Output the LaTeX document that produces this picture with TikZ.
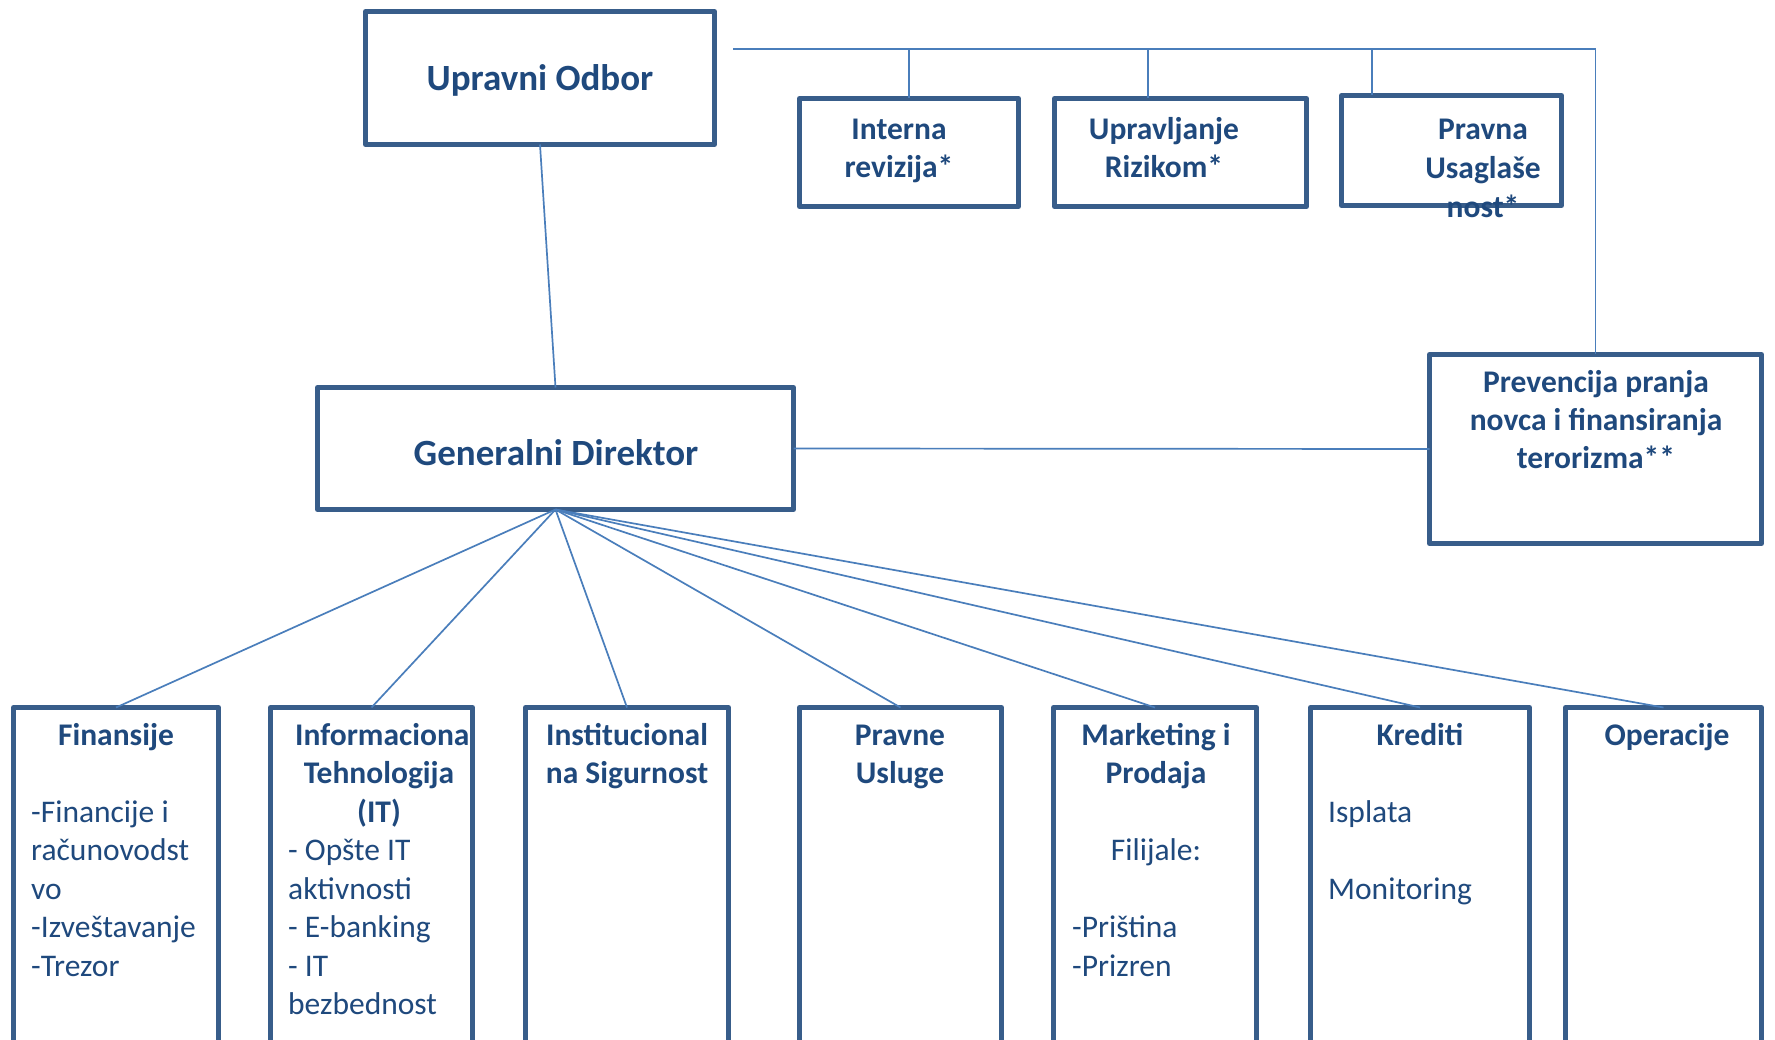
\documentclass[tikz,border=0pt]{standalone}
\usepackage{fontspec}
\setmainfont{Carlito}
\definecolor{boxc}{RGB}{56,93,138}
\definecolor{txtc}{RGB}{31,73,125}
\definecolor{linec}{RGB}{74,126,187}
\tikzset{
  orgbox/.style={draw=boxc, line width=5pt, line join=round, rectangle, inner sep=0pt, outer sep=0pt},
  conn/.style={draw=linec, line width=1.7pt},
  tb/.style={text=txtc, font=\fontsize{31.5}{38.5}\selectfont\bfseries, inner sep=0pt, anchor=base},
  tbw/.style={tb, anchor=base west},
  tn/.style={text=txtc, font=\fontsize{31.5}{38.5}\selectfont, inner sep=0pt, anchor=base west},
  tnc/.style={tn, anchor=base},
  big/.style={text=txtc, font=\fontsize{37}{44}\selectfont\bfseries, inner sep=0pt, anchor=base}
}
\begin{document}
\begin{tikzpicture}[x=1pt,y=-1pt]
\useasboundingbox (0,0) rectangle (1775,1040);
\fill[white] (0,0) rectangle (1775,1040);
\clip (0,0) rectangle (1775,1040);

% boxes
\node[orgbox, minimum width=349pt, minimum height=133pt] (UO) at (540,78) {};
\node[orgbox, minimum width=476pt, minimum height=122pt] (GD) at (555.5,448.5) {};
\node[orgbox, minimum width=219pt, minimum height=108pt] (IR) at (909,152.5) {};
\node[orgbox, minimum width=252pt, minimum height=108pt] (UR) at (1180.5,152.5) {};
\node[orgbox, minimum width=220pt, minimum height=110pt] (PU) at (1451.5,150.5) {};
\node[orgbox, minimum width=332pt, minimum height=189pt] (PV) at (1595.5,449) {};
\node[orgbox, minimum width=205pt, minimum height=363pt] (B1) at (116,889) {};
\node[orgbox, minimum width=202pt, minimum height=363pt] (B2) at (371.5,889) {};
\node[orgbox, minimum width=203pt, minimum height=363pt] (B3) at (627,889) {};
\node[orgbox, minimum width=202pt, minimum height=363pt] (B4) at (900.5,889) {};
\node[orgbox, minimum width=203pt, minimum height=363pt] (B5) at (1155,889) {};
\node[orgbox, minimum width=219pt, minimum height=363pt] (B6) at (1420,889) {};
\node[orgbox, minimum width=196pt, minimum height=363pt] (B7) at (1663.5,889) {};

% connectors
\coordinate (tl) at (733,49);
\coordinate (j1) at (909,49);
\coordinate (j2) at (1148,49);
\coordinate (j3) at (1372,49);
\draw[conn] (tl) -- (tl -| PV.north) -- (PV.north);
\draw[conn] (j1) -- (j1 |- IR.north);
\draw[conn] (j2) -- (j2 |- UR.north);
\draw[conn] (j3) -- (j3 |- PU.north);
\draw[conn] (UO.south) -- (GD.north);
\draw[conn] (GD.east) -- (PV.west);
\foreach \b in {B1,B2,B3,B4,B5,B6,B7} \draw[conn] (GD.south) -- (\b.north);

% texts top
\node[big] (tUO) at (540,91) {Upravni Odbor};
\node[big] (tGD) at (556,465) {Generalni Direktor};
\node[tb] (tIR1) at (899,140) {Interna};
\node[tb] (tIR2) at (899,178) {revizija*};
\node[tb] (tUR1) at (1164,140) {Upravljanje};
\node[tb] (tUR2) at (1164,178) {Rizikom*};
\node[tb] (tPU1) at (1483,140) {Pravna};
\node[tb] (tPU2) at (1483,179) {Usaglaše};
\node[tb] (tPU3) at (1483,218) {nost*};
\node[tb] (tPV1) at (1596,393) {Prevencija pranja};
\node[tb] (tPV2) at (1596,430.5) {novca i finansiranja};
\node[tb] (tPV3) at (1596,468) {terorizma**};

% Finansije
\node[tb] (tF0) at (116,745) {Finansije};
\node[tn] (tF1) at (31,822) {-Financije i};
\node[tn] (tF2) at (31,860.5) {računovodst};
\node[tn] (tF3) at (31,899) {vo};
\node[tn] (tF4) at (31,937.5) {-Izveštavanje};
\node[tn] (tF5) at (31,976) {-Trezor};

% IT
\node[tbw] (tI0) at (295,745) {Informaciona};
\node[tb] (tI1) at (379,783.5) {Tehnologija};
\node[tb] (tI2) at (379,822) {(IT)};
\node[tn] (tI3) at (288,860.5) {- Opšte IT};
\node[tn] (tI4) at (288,899) {aktivnosti};
\node[tn] (tI5) at (288,937.5) {- E-banking};
\node[tn] (tI6) at (288,976) {- IT};
\node[tn] (tI7) at (288,1014.5) {bezbednost};

% Institucional
\node[tb] (tS1) at (627,745) {Institucional};
\node[tb] (tS2) at (627,783.5) {na Sigurnost};

% Pravne usluge
\node[tb] (tL1) at (900,745) {Pravne};
\node[tb] (tL2) at (900,783.5) {Usluge};

% Marketing
\node[tb] (tM1) at (1156,745) {Marketing i};
\node[tb] (tM2) at (1156,783.5) {Prodaja};
\node[tnc] (tM3) at (1156,860.5) {Filijale:};
\node[tn] (tM4) at (1072,937.5) {-Priština};
\node[tn] (tM5) at (1072,976) {-Prizren};

% Krediti
\node[tb] (tK1) at (1420,745) {Krediti};
\node[tn] (tK2) at (1328,822) {Isplata};
\node[tn] (tK3) at (1328,899) {Monitoring};

% Operacije
\node[tb] (tO1) at (1667,745) {Operacije};
\end{tikzpicture}
\end{document}
